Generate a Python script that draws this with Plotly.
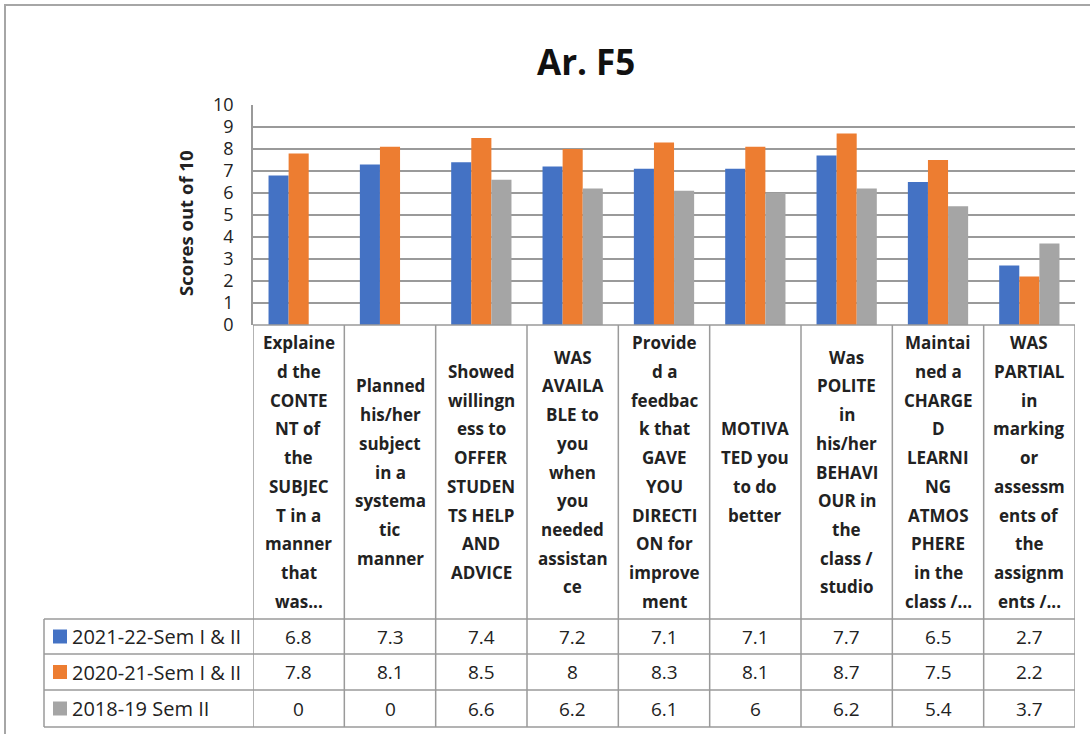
import plotly.graph_objects as go

# ---------------- data ----------------
title_text = "Ar. F5"
y_title = "Scores out of 10"
categories = [
    "Explaine\nd the\nCONTE\nNT of\nthe\nSUBJEC\nT in a\nmanner\nthat\nwas...",
    "Planned\nhis/her\nsubject\nin a\nsystema\ntic\nmanner",
    "Showed\nwillingn\ness to\nOFFER\nSTUDEN\nTS HELP\nAND\nADVICE",
    "WAS\nAVAILA\nBLE to\nyou\nwhen\nyou\nneeded\nassistan\nce",
    "Provide\nd a\nfeedbac\nk that\nGAVE\nYOU\nDIRECTI\nON for\nimprove\nment",
    "MOTIVA\nTED you\nto do\nbetter",
    "Was\nPOLITE\nin\nhis/her\nBEHAVI\nOUR in\nthe\nclass /\nstudio",
    "Maintai\nned a\nCHARGE\nD\nLEARNI\nNG\nATMOS\nPHERE\nin the\nclass /...",
    "WAS\nPARTIAL\nin\nmarking\nor\nassessm\nents of\nthe\nassignm\nents /...",
]
series_names = ["2021-22-Sem I & II", "2020-21-Sem I & II", "2018-19 Sem II"]
s2021_22 = [6.8, 7.3, 7.4, 7.2, 7.1, 7.1, 7.7, 6.5, 2.7]
s2020_21 = [7.8, 8.1, 8.5, 8.0, 8.3, 8.1, 8.7, 7.5, 2.2]
s2018_19 = [0, 0, 6.6, 6.2, 6.1, 6.0, 6.2, 5.4, 3.7]
series_values = [s2021_22, s2020_21, s2018_19]
colors = ["#4472C4", "#ED7D31", "#A5A5A5"]
y_ticks = [0, 1, 2, 3, 4, 5, 6, 7, 8, 9, 10]

# ---------------- layout geometry (pixels) ----------------
W, H = 1090, 734
L, R, T, B = 253, 1075, 105, 325
row_lines = [619, 654, 690, 727]
legend_left = 44
line_gap = 28.7
grid_col = "#9a9a9a"
txt_col = "#222222"
FONT = "Open Sans"


def px(xp):
    return (xp - L) / (R - L)


def py(yp):
    return (B - yp) / (B - T)


idx = list(range(len(categories)))
fig = go.Figure()
for name, vals, col in zip(series_names, series_values, colors):
    fig.add_trace(go.Bar(x=idx, y=vals, name=name, marker=dict(color=col, line=dict(width=0))))

shapes = []
annotations = []

# outer chart border
shapes.append(dict(type="rect", xref="paper", yref="paper", x0=px(5), x1=px(1095), y0=py(740), y1=py(5),
                   line=dict(color="#a6a6a6", width=2), fillcolor="rgba(0,0,0,0)", layer="below"))

# table horizontal lines
shapes.append(dict(type="line", xref="paper", yref="paper", x0=0, x1=1, y0=py(B), y1=py(B),
                   line=dict(color=grid_col, width=1.5)))
for yl in row_lines:
    shapes.append(dict(type="line", xref="paper", yref="paper", x0=px(legend_left), x1=1, y0=py(yl), y1=py(yl),
                       line=dict(color=grid_col, width=1.5)))
# legend column left line
shapes.append(dict(type="line", xref="paper", yref="paper", x0=px(legend_left), x1=px(legend_left),
                   y0=py(row_lines[0]), y1=py(row_lines[-1]), line=dict(color=grid_col, width=1.5)))
# column separators (on category axis)
for i in range(len(categories) + 1):
    shapes.append(dict(type="line", xref="x", yref="paper", x0=i - 0.5, x1=i - 0.5,
                       y0=py(B), y1=py(row_lines[-1]), line=dict(color=grid_col, width=1.5)))

# category labels (line by line for Excel-like spacing)
cell_mid = (B + row_lines[0]) / 2
for i, cat in enumerate(categories):
    lines = cat.split("\n")
    n = len(lines)
    for k, ln in enumerate(lines):
        yp = cell_mid + (k - (n - 1) / 2) * line_gap
        annotations.append(dict(x=i, y=py(yp), xref="x", yref="paper", text=ln, showarrow=False,
                                xanchor="center", yanchor="middle",
                                font=dict(family=FONT, size=17, color=txt_col, weight="bold")))

# data table rows
for r, (name, vals, col) in enumerate(zip(series_names, series_values, colors)):
    ymid = (row_lines[r] + row_lines[r + 1]) / 2
    shapes.append(dict(type="rect", xref="paper", yref="paper", x0=px(53), x1=px(67),
                       y0=py(ymid + 7), y1=py(ymid - 7), fillcolor=col, line=dict(width=0)))
    annotations.append(dict(x=px(70), y=py(ymid), xref="paper", yref="paper", text=name, showarrow=False,
                            xanchor="left", yanchor="middle",
                            font=dict(family=FONT, size=20, color=txt_col)))
    for i, v in enumerate(vals):
        annotations.append(dict(x=i, y=py(ymid), xref="x", yref="paper", text=f"{v:g}", showarrow=False,
                                xanchor="center", yanchor="middle",
                                font=dict(family=FONT, size=19, color=txt_col)))

# title and axis title
annotations.append(dict(x=px(586), y=py(61), xref="paper", yref="paper", text=title_text, showarrow=False,
                        xanchor="center", yanchor="middle",
                        font=dict(family=FONT, size=35, color="#111111", weight="bold")))
annotations.append(dict(x=px(185), y=py(223), xref="paper", yref="paper", text=y_title, showarrow=False,
                        textangle=-90, xanchor="center", yanchor="middle",
                        font=dict(family=FONT, size=18.5, color=txt_col, weight="bold")))

fig.update_layout(
    width=W, height=H,
    margin=dict(l=L, r=W - R, t=T, b=H - B, pad=0),
    paper_bgcolor="white", plot_bgcolor="white",
    barmode="group", bargap=0.34, bargroupgap=0,
    showlegend=False,
    shapes=shapes, annotations=annotations,
    xaxis=dict(range=[-0.5, len(categories) - 0.5], showticklabels=False, showgrid=False,
               zeroline=False, showline=False, fixedrange=True),
    yaxis=dict(range=[0, 10], tickvals=y_ticks, showgrid=True, gridcolor=grid_col, gridwidth=1.5,
               zeroline=False, showline=True, linecolor=grid_col, linewidth=1.5,
               ticks="", ticklabelstandoff=14,
               tickfont=dict(family=FONT, size=18, color=txt_col), fixedrange=True),
)

fig.write_html("out.html", config={"displayModeBar": False},
               post_script="document.body.style.margin='0';document.body.style.overflow='hidden';")
